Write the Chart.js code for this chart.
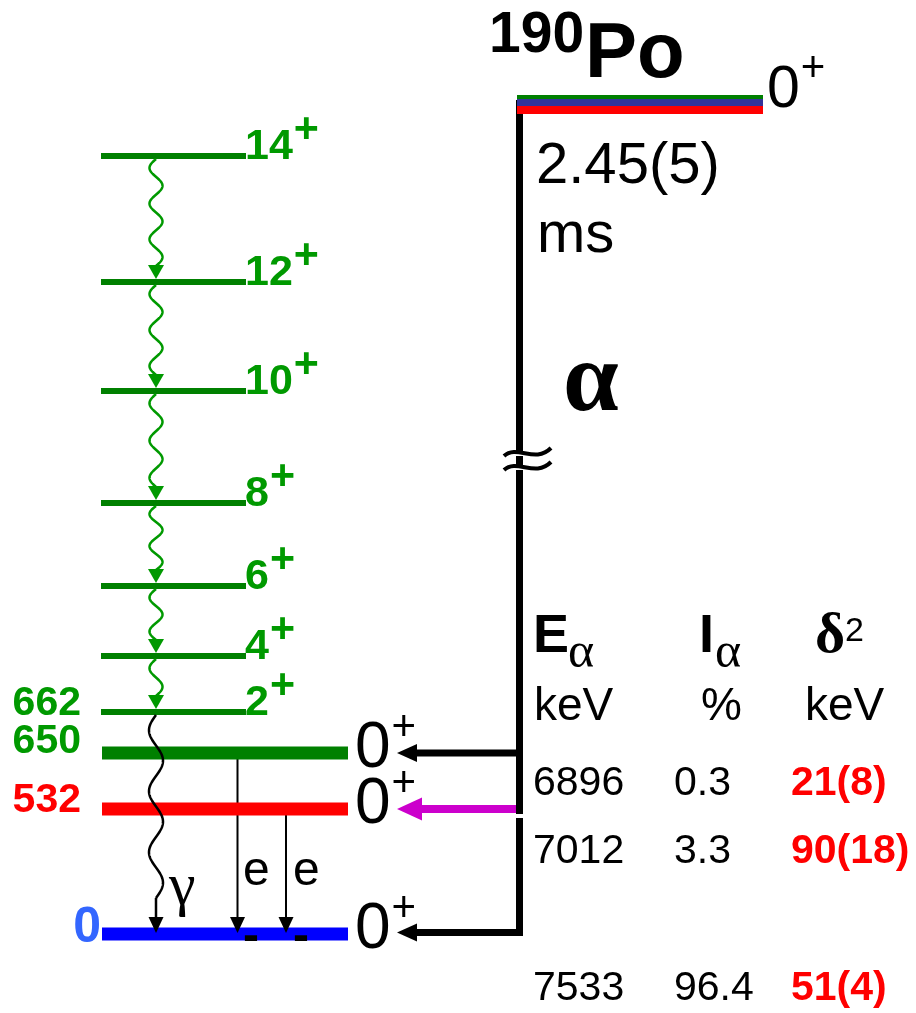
<!DOCTYPE html>
<html>
<head>
<meta charset="utf-8">
<script src="https://cdn.jsdelivr.net/npm/chart.js@4"></script>
<style>
  html, body { margin: 0; padding: 0; background: #fff; }
  #wrap { width: 916px; height: 1013px; }
</style>
</head>
<body>
<div id="wrap"><canvas id="scheme"></canvas></div>
<script>
// Alpha decay of 190Po into 186Pb.
// Rows are schematic heights on the drawing (0 = top of page).

// Ground-state band of 186Pb (spins + their rows)
const bandSpins = ['14', '12', '10', '8', '6', '4', '2'];
const bandRows  = [156, 282, 391, 503, 586, 656, 712];
const bandTopEnergy = '662';   // energy of the 2+ state

// 0+ states fed by the alpha decay
const zeroEnergies = ['650', '532', '0'];
const zeroRows     = [753, 809, 934];

// Parent nucleus
const parentMass = '190', parentSymbol = 'Po', parentSpin = '0';
const parentRow = 100;
const halfLife = '2.45(5)', halfLifeUnit = 'ms';

// Alpha-decay table: one row per 0+ state (650, 532, 0)
const alphaEnergy    = ['6896', '7012', '7533'];
const alphaIntensity = ['0.3', '3.3', '96.4'];
const reducedWidth   = ['21(8)', '90(18)', '51(4)'];
const tableRows      = [795, 863, 1000];

// Colours
const green = '#008000', lightGreen = '#009900', red = '#ff0000',
      blue = '#0000ff', labelBlue = '#3366ff', magenta = '#cc00cc',
      parentBlue = '#333399', black = '#000';
const zeroColors      = [green, red, blue];
const zeroLabelColors = [lightGreen, red, labelBlue];
const feedColors      = [black, magenta, black];

const sans = '"Liberation Sans", Arial, sans-serif';
const serif = '"Liberation Serif", "Times New Roman", serif';

// Horizontal extents of the drawing parts
const bandX = [101, 246], zeroX = [102, 348], parentX = [517, 763];
const alphaX = 519.5;

// helper: a straight segment as a scatter-line dataset
function seg(x0, y0, x1, y1, color, width) {
  return {
    data: [{ x: x0, y: y0 }, { x: x1, y: y1 }],
    borderColor: color, borderWidth: width,
    showLine: true, pointRadius: 0, fill: false, clip: false,
    borderCapStyle: 'butt'
  };
}

const datasets = [
  ...bandRows.map(r => seg(bandX[0], r, bandX[1], r, green, 6)),
  ...zeroRows.map((r, i) => seg(zeroX[0], r, zeroX[1], r, zeroColors[i], 13)),
  // parent level: three coloured stripes
  seg(parentX[0], parentRow - 3, parentX[1], parentRow - 3, green, 4),
  seg(parentX[0], parentRow + 2.5, parentX[1], parentRow + 2.5, parentBlue, 7),
  seg(parentX[0], parentRow + 10, parentX[1], parentRow + 10, red, 8),
  // alpha line
  seg(alphaX, parentRow, alphaX, zeroRows[1] + 5, black, 7),
  seg(alphaX, zeroRows[1] + 9, alphaX, zeroRows[2] + 2, black, 7),
  // alpha feeding lines
  ...zeroRows.map((r, i) => seg(417, r - (i === 2 ? 1.5 : 0), alphaX + 3.5, r - (i === 2 ? 1.5 : 0), feedColors[i], i === 1 ? 8 : 7)),
  // conversion-electron lines (E0)
  seg(237.5, zeroRows[0] + 6, 237.5, zeroRows[2] - 14, black, 2),
  seg(286, zeroRows[1] + 6, 286, zeroRows[2] - 14, black, 2)
];

function wave(ctx, cx, y0, y1, amp, period, color, width) {
  const len = y1 - y0;
  const n = Math.max(1, Math.round(len / (period / 2)));
  const p = 2 * len / n;
  ctx.beginPath();
  for (let t = 0; t <= len; t += 0.5) {
    const xx = cx - amp * Math.sin(t / p * 2 * Math.PI);
    if (t === 0) ctx.moveTo(xx, y0 + t); else ctx.lineTo(xx, y0 + t);
  }
  ctx.strokeStyle = color;
  ctx.lineWidth = width;
  ctx.stroke();
}

function headDown(ctx, cx, tip, w, h, color) {
  ctx.beginPath();
  ctx.moveTo(cx, tip);
  ctx.lineTo(cx - w / 2, tip - h);
  ctx.lineTo(cx + w / 2, tip - h);
  ctx.closePath();
  ctx.fillStyle = color;
  ctx.fill();
}

function headLeft(ctx, tipX, cy, len, h, color) {
  ctx.beginPath();
  ctx.moveTo(tipX, cy);
  ctx.lineTo(tipX + len, cy - h / 2);
  ctx.lineTo(tipX + len, cy + h / 2);
  ctx.closePath();
  ctx.fillStyle = color;
  ctx.fill();
}

function txt(ctx, s, x, y, font, color, align) {
  ctx.font = font;
  ctx.fillStyle = color;
  ctx.textAlign = align || 'left';
  ctx.textBaseline = 'alphabetic';
  ctx.fillText(s, x, y);
  return ctx.measureText(s).width;
}

const schemeDecor = {
  id: 'schemeDecor',
  afterDatasetsDraw(chart) {
    const { ctx, scales: { x, y } } = chart;
    const px = v => x.getPixelForValue(v), py = v => y.getPixelForValue(v);
    ctx.save();

    // gamma cascade in the band (green wavy arrows)
    for (let i = 0; i < bandRows.length - 1; i++) {
      const top = py(bandRows[i]) + 3, tip = py(bandRows[i + 1]) - 3;
      wave(ctx, px(156), top, tip - 13, 6.5, 34, lightGreen, 2.5);
      headDown(ctx, px(156), tip, 16, 14, lightGreen);
    }
    // 2+ -> 0+ gamma (black)
    wave(ctx, px(156), py(bandRows[6]) + 3, py(898), 7, 60, black, 2.5);
    ctx.beginPath();
    ctx.moveTo(px(156), py(898)); ctx.lineTo(px(156), py(920));
    ctx.lineWidth = 2.5; ctx.strokeStyle = black; ctx.stroke();
    headDown(ctx, px(156), py(zeroRows[2]) - 1, 15, 16, black);
    // E0 electron arrow heads
    headDown(ctx, px(237.5), py(zeroRows[2]) - 1, 15, 16, black);
    headDown(ctx, px(286), py(zeroRows[2]) - 1, 15, 16, black);

    // alpha arrow heads
    headLeft(ctx, px(397), py(zeroRows[0]), 20, 18, black);
    headLeft(ctx, px(397), py(zeroRows[1]), 25, 23, magenta);
    headLeft(ctx, px(397), py(zeroRows[2] - 1.5), 20, 18, black);

    // band spin labels
    bandSpins.forEach((s, i) => {
      const b = py(bandRows[i]) + 3;
      const w = txt(ctx, s, px(245), b, 'bold 43px ' + sans, lightGreen);
      txt(ctx, '+', px(245) + w + 1, b - 17, 'bold 43px ' + sans, lightGreen);
    });
    // energy labels on the left
    txt(ctx, bandTopEnergy, px(81), py(bandRows[6]) + 3, 'bold 41px ' + sans, lightGreen, 'right');
    txt(ctx, zeroEnergies[0], px(81), py(zeroRows[0]), 'bold 41px ' + sans, zeroLabelColors[0], 'right');
    txt(ctx, zeroEnergies[1], px(81), py(zeroRows[1]) + 3, 'bold 41px ' + sans, zeroLabelColors[1], 'right');
    txt(ctx, zeroEnergies[2], px(101), py(zeroRows[2]) + 8, 'bold 50px ' + sans, zeroLabelColors[2], 'right');
    // 0+ labels on the right of the 0+ states
    zeroRows.forEach(r => {
      const w = txt(ctx, '0', px(355), py(r) + 14, '64px ' + sans, black);
      txt(ctx, '+', px(355) + w + 1, py(r) - 13, '42px ' + sans, black);
    });

    // gamma and electron labels
    txt(ctx, 'γ', px(169), py(904), '60px ' + serif, black);
    txt(ctx, 'e', px(243), py(885), '48px ' + sans, black);
    txt(ctx, 'e', px(293), py(885), '48px ' + sans, black);
    txt(ctx, '-', px(243), py(951), 'bold 48px ' + sans, black);
    txt(ctx, '-', px(293), py(951), 'bold 48px ' + sans, black);

    // parent nucleus
    txt(ctx, parentMass, px(489), py(52), 'bold 57px ' + sans, black);
    txt(ctx, parentSymbol, px(585), py(77), 'bold 78px ' + sans, black);
    const w0 = txt(ctx, parentSpin, px(767), py(107), '59px ' + sans, black);
    txt(ctx, '+', px(767) + w0 + 1, py(81), '42px ' + sans, black);
    txt(ctx, halfLife, px(536), py(183), '58px ' + sans, black);
    txt(ctx, halfLifeUnit, px(537), py(252), '58px ' + sans, black);

    // alpha symbol and axis break
    txt(ctx, 'α', px(563), py(410), 'bold 100px ' + serif, black);
    ctx.fillStyle = '#fff';
    ctx.fillRect(px(alphaX) - 5, py(452), 10, 4);
    ctx.fillRect(px(alphaX) - 5, py(466), 10, 4);
    ctx.lineWidth = 4; ctx.strokeStyle = black;
    [452, 466].forEach(v => {
      ctx.beginPath();
      ctx.moveTo(px(504), py(v + 4));
      ctx.bezierCurveTo(px(517), py(v - 8), px(535), py(v + 12), px(551), py(v - 4));
      ctx.stroke();
    });

    // table header
    txt(ctx, 'E', px(533), py(652), 'bold 54px ' + sans, black);
    txt(ctx, 'α', px(568), py(667), '50px ' + serif, black);
    txt(ctx, 'I', px(699), py(652), 'bold 54px ' + sans, black);
    txt(ctx, 'α', px(715), py(667), '50px ' + serif, black);
    const wd = txt(ctx, 'δ', px(815), py(652), 'bold 58px ' + serif, black);
    txt(ctx, '2', px(815) + wd, py(641), '34px ' + sans, black);
    txt(ctx, 'keV', px(534), py(720), '46px ' + sans, black);
    txt(ctx, '%', px(701), py(720), '46px ' + sans, black);
    txt(ctx, 'keV', px(805), py(720), '46px ' + sans, black);
    // table rows
    tableRows.forEach((r, i) => {
      txt(ctx, alphaEnergy[i], px(533), py(r), '41px ' + sans, black);
      txt(ctx, alphaIntensity[i], px(674), py(r), '41px ' + sans, black);
      txt(ctx, reducedWidth[i], px(791), py(r), 'bold 41px ' + sans, red);
    });

    ctx.restore();
  }
};

new Chart(document.getElementById('scheme'), {
  type: 'scatter',
  data: { datasets: datasets },
  options: {
    responsive: true,
    maintainAspectRatio: false,
    animation: false,
    events: [],
    layout: { padding: 0 },
    plugins: { legend: { display: false }, tooltip: { enabled: false } },
    scales: {
      x: { type: 'linear', min: 0, max: 916, display: false },
      y: { type: 'linear', min: 0, max: 1013, reverse: true, display: false }
    }
  },
  plugins: [schemeDecor]
});
</script>
</body>
</html>
